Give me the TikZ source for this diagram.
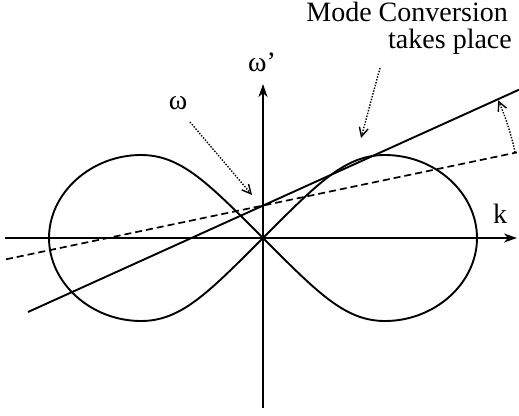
\documentclass[tikz,border=0pt]{standalone}
\usepackage{fontspec}
\setmainfont{Liberation Serif}
\usetikzlibrary{arrows.meta,calc}
\tikzset{
  axis/.style={line width=2pt,-{Stealth[length=13pt,width=9pt,inset=4pt]}},
  curve/.style={line width=1.9pt},
  dotarrow/.style={line width=1.4pt,dash pattern=on 1.4pt off 1.5pt,-{Straight Barb[length=9pt,width=9pt]}},
  dashline/.style={line width=1.7pt,dash pattern=on 7pt off 4pt},
  lbl/.style={inner sep=0pt,font=\fontsize{28}{30}\selectfont}
}
\begin{document}
\begin{tikzpicture}[x=1pt,y=-1pt]
\useasboundingbox (0,0) rectangle (519,415);
% axes
\coordinate (O) at (263,238);
\coordinate (xl) at (5,238);
\coordinate (xr) at (517,238);
\coordinate (yb) at (263,408);
\coordinate (yt) at (263,84);
\draw[axis] (xl) -- (xr);
\draw[axis] (yb) -- (yt);
% figure eight
\draw[curve] (O) .. controls (318,183) and (345,155) .. (385,155)
  .. controls (435,155) and (477,193) .. (477,238)
  .. controls (477,283) and (435,321) .. (385,321)
  .. controls (345,321) and (318,293) .. (O)
  .. controls (208,183) and (181,155) .. (141,155)
  .. controls (91,155) and (49,193) .. (49,238)
  .. controls (49,283) and (91,321) .. (141,321)
  .. controls (181,321) and (208,293) .. (O);
% lines through intercept
\coordinate (I) at (263,205.5);
\coordinate (s1) at (28,312);
\coordinate (s2) at (519,89.7);
\coordinate (d1) at (6,259.3);
\coordinate (d2) at (517,152.4);
\draw[curve] (s1) -- (s2);
\draw[dashline] (d1) -- (d2);
% rotation arrow
\coordinate (a1) at ($(I)+(-11.9:257.6)$);
\draw[dotarrow] (a1) arc[start angle=-11.9, end angle=-24.1, radius=257.6];
% labels
\node[lbl,anchor=base east] (mc) at (508,21) {Mode Conversion};
\node[lbl,anchor=base east] (tp) at (512,48) {takes place};
\node[lbl] (w) at (178,103) {ω};
\node[lbl] (wp) at (262,62) {ω’};
\node[lbl] (k) at (500,214) {k};
\coordinate (mcs) at (380,68);
\coordinate (mce) at (361,138);
\draw[dotarrow] (mcs) -- (mce);
\coordinate (ws) at (190,122);
\coordinate (we) at (252,195);
\draw[dotarrow] (ws) -- (we);
\end{tikzpicture}
\end{document}
